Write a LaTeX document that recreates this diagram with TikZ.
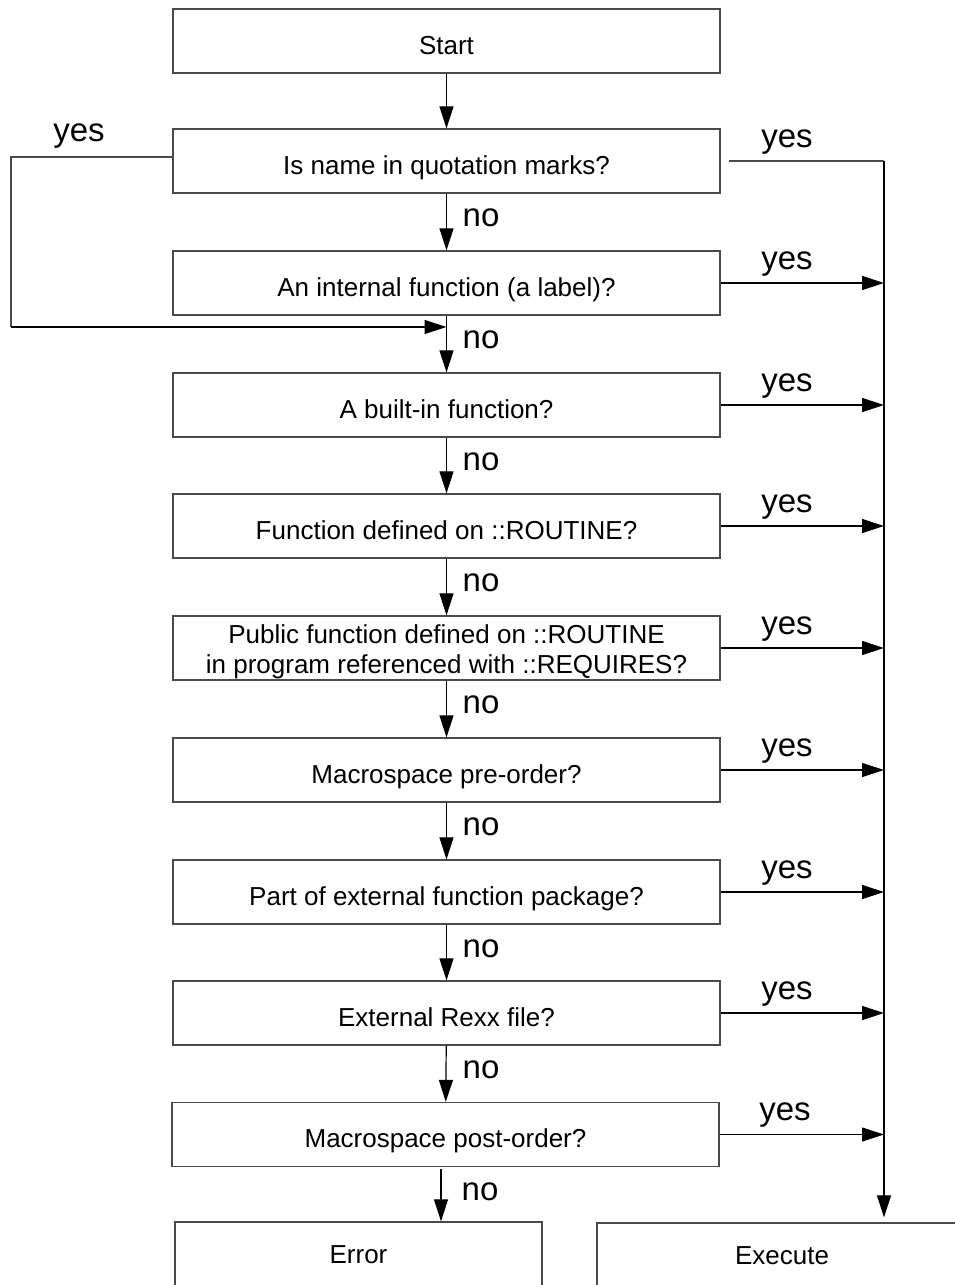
\documentclass[tikz,border=0pt]{standalone}
\usepackage{fontspec}
\setmainfont{Liberation Sans}
\usetikzlibrary{arrows.meta,calc}
\definecolor{boxline}{HTML}{4A4A4A}
\tikzset{
  fbox/.style={draw=boxline,line width=1.3pt,minimum width=547pt,minimum height=64pt,
    inner sep=0pt,align=center,text height=26pt,text depth=0pt,font=\fontsize{26}{30}\selectfont},
  endbox/.style={draw=boxline,line width=1.3pt,minimum width=367pt,minimum height=66pt,
    inner sep=0pt,font=\fontsize{26}{30}\selectfont},
  conn/.style={line width=1.2pt,-{Triangle[length=22pt,width=14pt]}},
  plain/.style={line width=1.2pt,color=boxline},
  lbl/.style={font=\fontsize{33}{38}\selectfont,inner sep=0pt}
}
\begin{document}
\begin{tikzpicture}[x=1pt,y=-1pt]
\useasboundingbox (0,0) rectangle (955,1285);
\clip (0,0) rectangle (955,1285);
\node[fbox] (s)  at (446.5,41)  {Start};
\node[fbox] (b1) at (446.5,161) {Is name in quotation marks?};
\node[fbox] (b2) at (446.5,283) {An internal function (a label)?};
\node[fbox] (b3) at (446.5,405) {A built-in function?};
\node[fbox] (b4) at (446.5,526) {Function defined on ::ROUTINE?};
\node[fbox,text height=,text depth=] (b5) at (446.5,648)
  {\raisebox{-4pt}[\height][\depth]{\begin{tabular}{@{}c@{}}Public function defined on ::ROUTINE\\in program referenced with ::REQUIRES?\end{tabular}}};
\node[fbox] (b6) at (446.5,770) {Macrospace pre-order?};
\node[fbox] (b7) at (446.5,892) {Part of external function package?};
\node[fbox] (b8) at (446.5,1013) {External Rexx file?};
\node[fbox] (b9) at (445.5,1134.5) {Macrospace post-order?};
\node[endbox] (err) at (358.5,1255) {Error};
\node[endbox,minimum width=370pt] (exe) at (782,1256) {Execute};

\coordinate (trunk) at (884,161);
\coordinate (L1) at (11,157);
\coordinate (L2) at (11,327);
\coordinate (e1) at (441,1169);

% vertical "no" arrows
\draw[conn] (s) -- (b1);
\draw[conn] (b1) -- (b2);
\draw[conn] (b2) -- (b3);
\draw[conn] (b3) -- (b4);
\draw[conn] (b4) -- (b5);
\draw[conn] (b5) -- (b6);
\draw[conn] (b6) -- (b7);
\draw[conn] (b7) -- (b8);
\draw[conn] (b8) -- (b9);
\draw[conn] (e1) -- (e1 |- err.north);

% left loop
\draw[plain] (b1.west |- L1) -- (L1) -- (L2);
\draw[conn] (L2) -- (b2.south |- L2);

% right trunk
\draw[plain] ($(b1.east)+(8,0)$) -- (trunk);
\draw[conn] (trunk) -- ($(trunk |- exe.north)+(0,-5)$);
\foreach \b in {b2,b3,b4,b5,b6,b7,b8,b9}
  \draw[conn] (\b.east) -- (trunk |- \b.east);

% labels
\node[lbl] (y0) at (79,136) {yes};
\node[lbl] (y1) at (787,142) {yes};
\foreach \b/\n in {b2/y2,b3/y3,b4/y4,b5/y5,b6/y6,b7/y7,b8/y8}
  \node[lbl] (\n) at ($(787,0 |- \b.east)+(0,-19)$) {yes};
\node[lbl] (y9) at ($(785,0 |- b9.east)+(0,-19)$) {yes};
\foreach \a/\b/\n in {b1/b2/n1,b2/b3/n2,b3/b4/n3,b4/b5/n4,b5/b6/n5,b6/b7/n6,b7/b8/n7,b8/b9/n8}
  \node[lbl] (\n) at ($(481,0 |- \a.south)!0.5!(481,0 |- \b.north)+(0,-4)$) {no};
\node[lbl] (n9) at (480,1192) {no};
\end{tikzpicture}
\end{document}
